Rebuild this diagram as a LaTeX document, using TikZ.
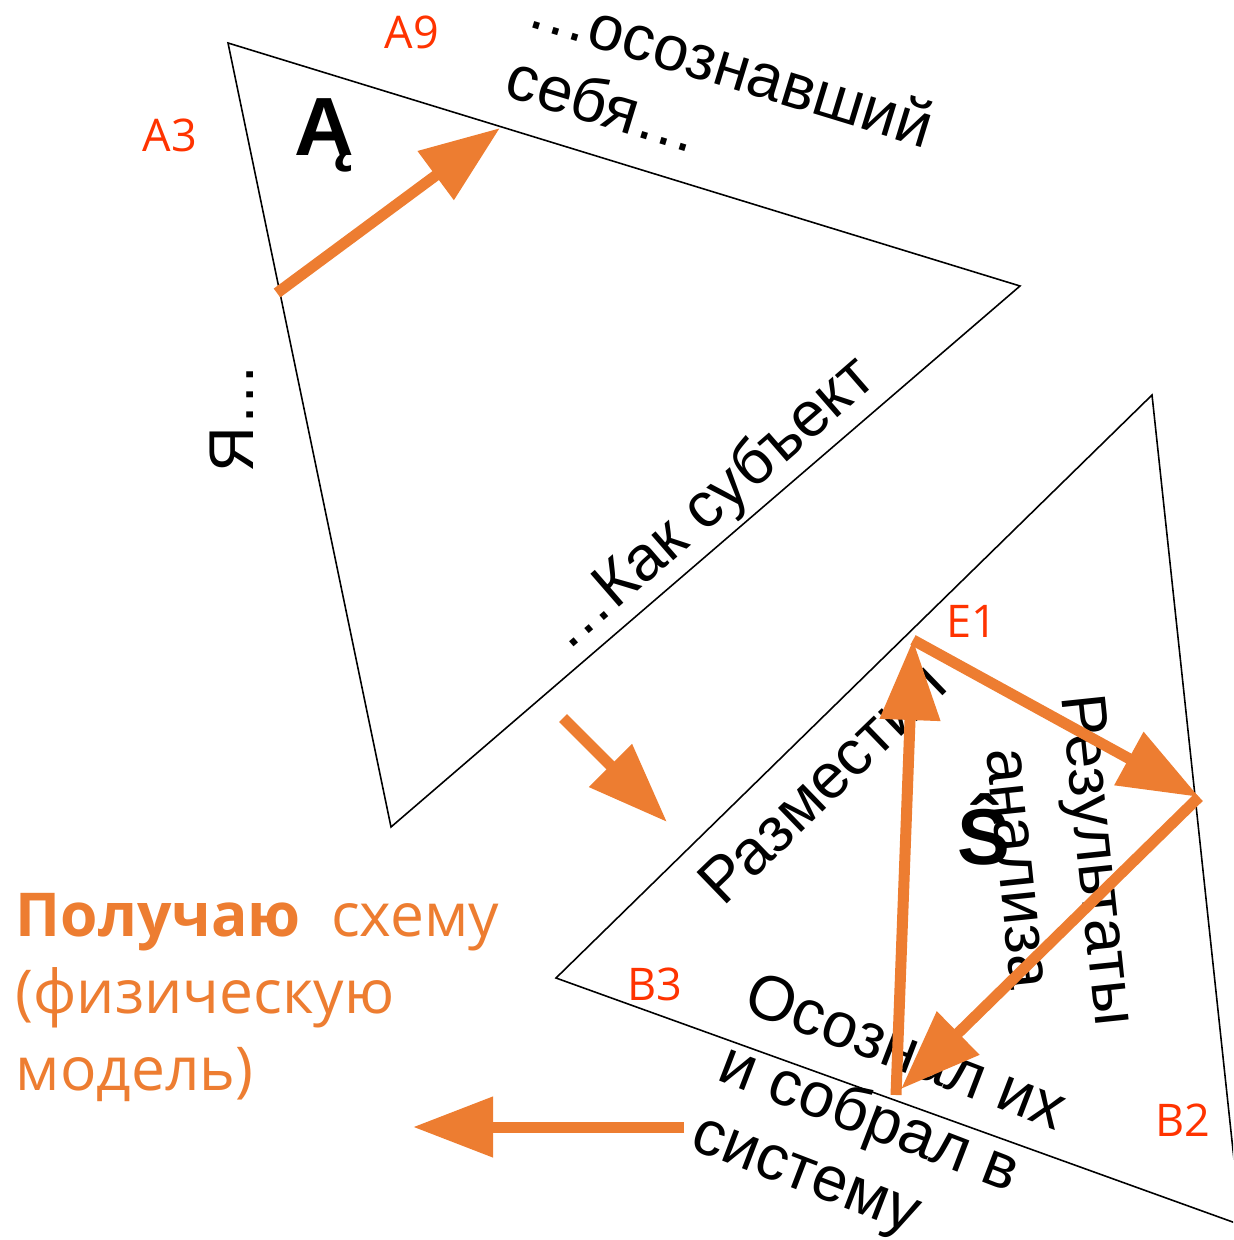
\documentclass[tikz,border=0pt]{standalone}
\usepackage{fontspec}
\setmainfont{Liberation Sans}
\newfontfamily\tagfont{Open Sans}
\usetikzlibrary{arrows.meta}
\definecolor{accent}{HTML}{ED7D31}
\definecolor{marker}{HTML}{FF3300}
\tikzset{
	edge/.style={draw=black, line width=0.45pt},
	flow/.style={draw=accent, line width=0.11cm, -{Triangle[length=0.8cm,width=0.58cm]}},
	tag/.style={text=marker, font=\tagfont\fontsize{12.8}{14}\selectfont, inner sep=0pt},
	caption/.style={font=\fontsize{18}{21}\selectfont, inner sep=0pt},
	sign/.style={font=\bfseries\fontsize{23.5}{25}\selectfont, inner sep=0pt},
	remark/.style={text=accent, font=\tagfont\fontsize{17.2}{21.9}\selectfont, inner sep=0pt, align=left}
}

\begin{document}
\begin{tikzpicture}[x=0.01cm, y=-0.01cm]
		\useasboundingbox (0,0) rectangle (1233,1240);
		\clip (0,0) rectangle (1233,1240);
		\coordinate (UpTop) at (228,43);
		\coordinate (UpRight) at (1020,286);
		\coordinate (UpBottom) at (391,827);
		\coordinate (LowTop) at (1152,395);
		\coordinate (LowLeft) at (556,978);
		\coordinate (LowRight) at (1241,1225);
		\draw[edge] (UpTop) -- (UpRight) -- (UpBottom) -- cycle;
		\draw[edge] (LowTop) -- (LowLeft) -- (LowRight) -- cycle;
		
		\draw node[tag] (A9) at (412,32) {A9};
		\draw node[tag] (A3) at (170,135) {A3};
		\draw node[tag] (E1) at (972,621) {E1};
		\draw node[tag] (B3) at (655,984) {B3};
		\draw node[tag] (B2) at (1183,1120) {B2};
		
		\draw node[sign] (Ego) at (324,135) {Ą};
		\draw node[sign, font=\bfseries\fontsize{22.5}{23}\selectfont] (Sys) at (984,829) {Ŝ};
		
		\draw node[caption, rotate=-17, align=left, font=\fontsize{18}{20.8}\selectfont] (Aware) at (721,100) {…осознавший\\себя…};
		\draw node[caption, rotate=90] (Self) at (232,418) {Я…};
		\draw node[caption, rotate=41] (Subject) at (712,505) {…Как субъект};
		\draw node[caption, rotate=44] (Placed) at (822,783) {Разместил};
		\draw node[caption, rotate=-84, align=center, font=\fontsize{18}{22.8}\selectfont] (Results) at (1060,864) {Результаты\\анализа};
		\draw node[caption, rotate=-21, align=left, font=\fontsize{18}{21}\selectfont] (Gathered) at (878,1125) {Осознал их\\и собрал в\\систему};
		\draw node[remark, anchor=north west] (Model) at (15,893) {\textbf{Получаю}\hspace{0.5em}схему\\(физическую\\модель)};
		
		\coordinate (EdgeMark) at (277,293);
		\coordinate (EdgeAim) at (500,128);
		\coordinate (PassFrom) at (563,718);
		\coordinate (PassTo) at (667,822);
		\coordinate (OutFrom) at (684,1127);
		\coordinate (OutTo) at (413,1127);
		\coordinate (InBase) at (896,1095);
		\coordinate (InTop) at (913,640);
		\coordinate (InRight) at (1199,797);
		\coordinate (InEnd) at (901,1089);
		
		\draw [flow] (EdgeMark) -- (EdgeAim);
		\draw [flow] (PassFrom) -- (PassTo);
		\draw [flow] (OutFrom) -- (OutTo);
		\draw [flow] (InBase) -- (InTop);
		\draw [flow] (InTop) -- (InRight);
		\draw [flow] (InRight) -- (InEnd);
	\end{tikzpicture}
\end{document}
